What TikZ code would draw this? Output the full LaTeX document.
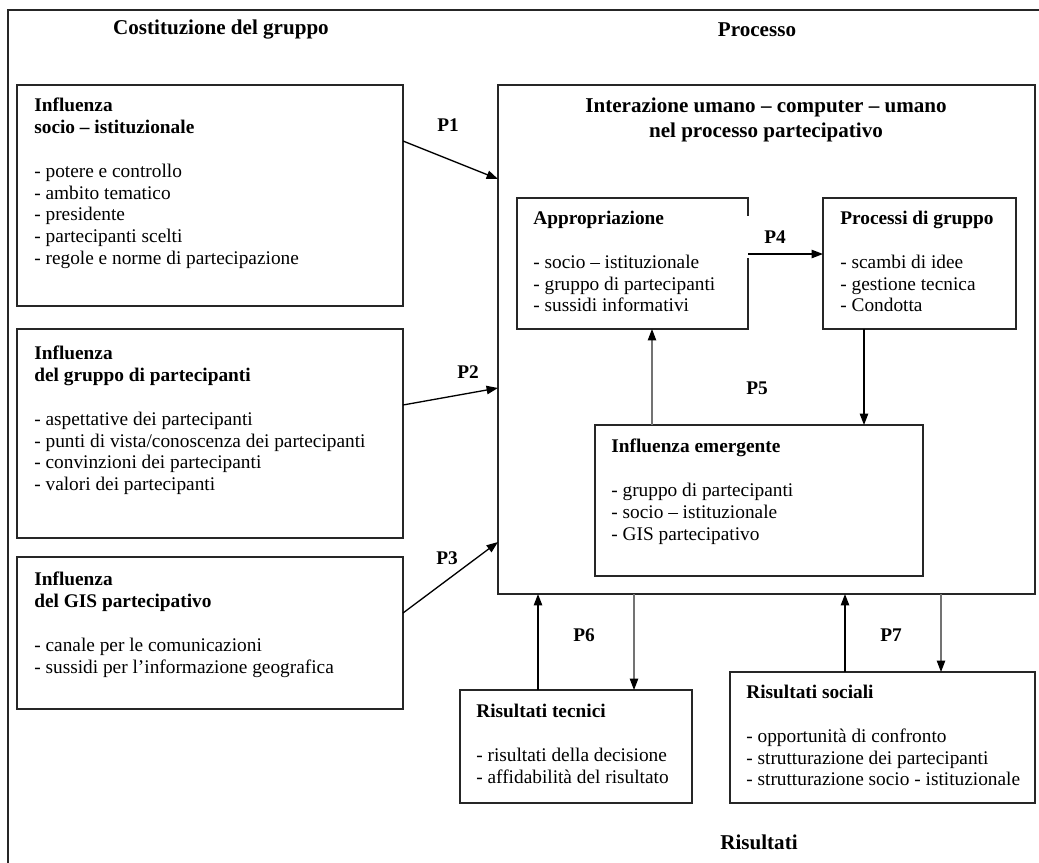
\documentclass[tikz,border=0pt]{standalone}
\usepackage{fontspec}
\setmainfont{Liberation Serif}
\usetikzlibrary{arrows.meta,fit}

\newcommand{\vgap}{\\[12.4pt]}

\begin{document}
\begin{tikzpicture}[x=0.02cm, y=-0.02cm,
        box/.style={draw=black!85, line width=0.8pt, inner sep=0pt, outer sep=0pt},
        txt/.style={anchor=north west, align=left, inner sep=0pt, font=\fontsize{11}{12.4}\selectfont},
        head/.style={inner sep=0pt, font=\fontsize{12}{14.2}\selectfont\bfseries},
        plab/.style={inner sep=0pt, font=\fontsize{11}{13}\selectfont\bfseries},
        arr/.style={-{Triangle[length=6.5pt, width=4.8pt]}, line width=0.75pt},
        arrthin/.style={-{Triangle[length=6.5pt, width=4.8pt, black]}, line width=0.6pt, draw=black!55}]
            \def \xleft    {17};
            \def \xright   {403};
            \def \xtxt     {34};

            \useasboundingbox (0, 0) rectangle (1039, 863);
% frame
            \draw [line width=0.8pt, black!85] (8, 863) -- (8, 10) -- (1039, 10);
            \node [head] (costit) at (221, 30) {Costituzione del gruppo};
            \node [head] (processo) at (757, 30) {Processo};
            \node [head] (risultati) at (759, 842) {Risultati};

% left boxes
            \node [box, fit={(\xleft, 85) (\xright, 306)}] (socio) {};
            \node [box, fit={(\xleft, 329) (\xright, 538)}] (gruppo) {};
            \node [box, fit={(\xleft, 557) (\xright, 709)}] (gis) {};
            \node [txt] (sociotxt) at (\xtxt, 98) {\textbf{Influenza}\\ \textbf{socio – istituzionale}\vgap
                - potere e controllo\\ - ambito tematico\\ - presidente\\ - partecipanti scelti\\ - regole e norme di partecipazione};
            \node [txt] (gruppotxt) at (\xtxt, 346) {\textbf{Influenza}\\ \textbf{del gruppo di partecipanti}\vgap
                - aspettative dei partecipanti\\ - punti di vista/conoscenza dei partecipanti\\ - convinzioni dei partecipanti\\ - valori dei partecipanti};
            \node [txt] (gistxt) at (\xtxt, 572) {\textbf{Influenza}\\ \textbf{del GIS partecipativo}\vgap
                - canale per le comunicazioni\\ - sussidi per l’informazione geografica};

% process
            \node [box, fit={(498, 85) (1035, 594)}] (proc) {};
            \node [head, align=center, anchor=north] (proctitle) at (766, 98) {Interazione umano – computer – umano\\ nel processo partecipativo};
            \node [box, fit={(517, 198) (748, 329)}] (appr) {};
            \node [box, fit={(823, 198) (1016, 329)}] (grp) {};
            \node [box, fit={(595, 425) (923, 576)}] (emer) {};
            \node [txt] (apprtxt) at (533, 211) {\textbf{Appropriazione}\vgap
                - socio – istituzionale\\ - gruppo di partecipanti\\ - sussidi informativi};
            \node [txt] (grptxt) at (840, 211) {\textbf{Processi di gruppo}\vgap
                - scambi di idee\\ - gestione tecnica\\ - Condotta};
            \node [txt] (emertxt) at (611, 439) {\textbf{Influenza emergente}\vgap
                - gruppo di partecipanti\\ - socio – istituzionale\\ - GIS partecipativo};

% results
            \node [box, fit={(460, 690) (692, 803)}] (tec) {};
            \node [box, fit={(730, 672) (1035, 803)}] (soc) {};
            \node [txt] (tectxt) at (476, 704) {\textbf{Risultati tecnici}\vgap
                - risultati della decisione\\ - affidabilità del risultato};
            \node [txt] (soctxt) at (746, 685) {\textbf{Risultati sociali}\vgap
                - opportunità di confronto\\ - strutturazione dei partecipanti\\ - strutturazione socio - istituzionale};

% labels
            \node [plab] (p1) at (448, 125) {P1};
            \node [plab] (p2) at (468, 372) {P2};
            \node [plab] (p3) at (447, 558) {P3};
            \node [plab, fill=white, minimum width=1.2cm, minimum height=0.84cm] (p4) at (775, 237) {P4};
            \node [plab] (p5) at (757, 388) {P5};
            \node [plab] (p6) at (584, 635) {P6};
            \node [plab] (p7) at (891, 635) {P7};

% arrows
            \draw [arr] (socio.east |- 0, 141) -- (proc.west |- 0, 179);
            \draw [arr] (gruppo.east |- 0, 405) -- (proc.west |- 0, 388);
            \draw [arr] (gis.east |- 0, 613) -- (proc.west |- 0, 542);
            \draw [arr] (appr.east |- 0, 254) -- (grp.west |- 0, 254);
            \draw [arrthin] (emer.north -| 652, 0) -- (appr.south -| 652, 0);
            \draw [arr] (grp.south -| 864, 0) -- (emer.north -| 864, 0);
            \draw [arr] (tec.north -| 538, 0) -- (proc.south -| 538, 0);
            \draw [arrthin] (proc.south -| 634, 0) -- (tec.north -| 634, 0);
            \draw [arr] (soc.north -| 845, 0) -- (proc.south -| 845, 0);
            \draw [arrthin] (proc.south -| 941, 0) -- (soc.north -| 941, 0);

        \end{tikzpicture}
\end{document}
